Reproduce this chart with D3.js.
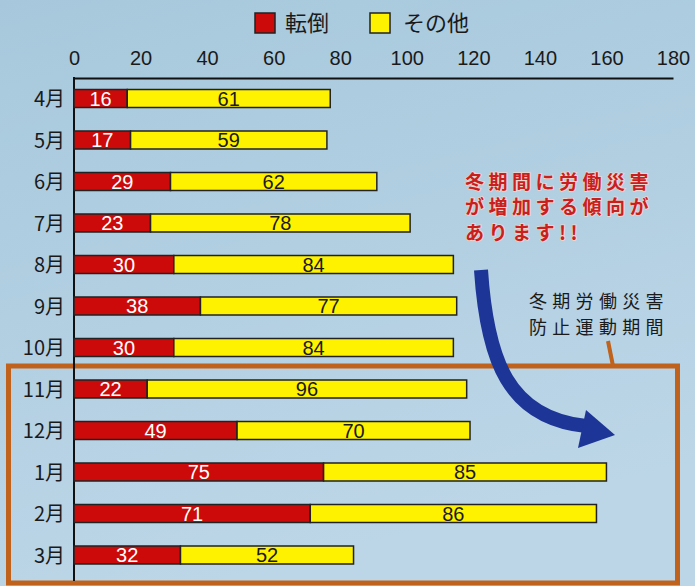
<!DOCTYPE html>
<html>
<head>
<meta charset="utf-8">
<script src="https://cdn.jsdelivr.net/npm/d3@7"></script>
<style>
  body { margin: 0; }
  text { font-family: "Liberation Sans", "Noto Sans CJK JP", sans-serif; }
</style>
</head>
<body>
<div id="chart"></div>
<script>

var months = ["4月", "5月", "6月", "7月", "8月", "9月", "10月", "11月", "12月", "1月", "2月", "3月"];
var tentou = [16, 17, 29, 23, 30, 38, 30, 22, 49, 75, 71, 32];
var sonota = [61, 59, 62, 78, 84, 77, 84, 96, 70, 85, 86, 52];
var seriesNames = ["転倒", "その他"];
var xTicks = [0, 20, 40, 60, 80, 100, 120, 140, 160, 180];
var noteLines = ["冬期間に労働災害", "が増加する傾向が", "あります!!"];
var periodLines = ["冬期労働災害", "防止運動期間"];

var width = 695,
    height = 586;

var svg = d3.select("#chart")
    .append("svg")
    .attr("width", width)
    .attr("height", height);

// background
var grad = svg.append("defs").append("linearGradient")
    .attr("id", "bg")
    .attr("x1", 0).attr("y1", 0).attr("x2", 0.3).attr("y2", 1);
grad.append("stop").attr("offset", "0%").attr("stop-color", "#a7c8dc");
grad.append("stop").attr("offset", "100%").attr("stop-color", "#bcd6e7");
svg.append("rect")
    .attr("width", width)
    .attr("height", height)
    .attr("fill", "url(#bg)");

var x = d3.scaleLinear()
    .domain([0, 180])
    .range([74, 673]);

var y = d3.scalePoint()
    .domain(months)
    .range([98.5, 555]);

var barH = 18;

// winter period box
svg.append("rect")
    .attr("x", 8.5)
    .attr("y", 366)
    .attr("width", 669)
    .attr("height", 217)
    .attr("fill", "none")
    .attr("stroke", "#c0621c")
    .attr("stroke-width", 5);
svg.append("line")
    .attr("x1", 613).attr("y1", 366)
    .attr("x2", 608).attr("y2", 341)
    .attr("stroke", "#c0621c")
    .attr("stroke-width", 4);

// top axis
var xAxis = svg.append("g")
    .attr("transform", "translate(0,78)")
    .call(d3.axisTop(x).tickValues(xTicks).tickSize(0).tickSizeOuter(0).tickPadding(13));
xAxis.select(".domain").attr("stroke", "#111").attr("stroke-width", 2);
xAxis.selectAll("text")
    .attr("font-size", 20)
    .attr("fill", "#1a1a1a")
    .style("font-family", "Liberation Sans, sans-serif");

// left axis
svg.append("line")
    .attr("x1", x(0)).attr("y1", 77)
    .attr("x2", x(0)).attr("y2", 581)
    .attr("stroke", "#111")
    .attr("stroke-width", 2);
var yAxis = svg.append("g")
    .attr("transform", "translate(" + x(0) + ",0)")
    .call(d3.axisLeft(y).tickSize(0).tickPadding(9));
yAxis.select(".domain").remove();
yAxis.selectAll("text")
    .attr("font-size", 20)
    .attr("fill", "#1a1a1a")
    .attr("dy", "0.35em")
    .style("font-family", "Noto Sans CJK JP, sans-serif");

var rows = months.map(function(m, i) {
    return {month: m, a: tentou[i], b: sonota[i]};
});

var bars = svg.selectAll(".row")
    .data(rows)
    .enter()
    .append("g")
    .attr("class", "row");

bars.append("rect")
    .attr("x", function(d) { return x(0); })
    .attr("y", function(d) { return y(d.month) - barH / 2; })
    .attr("width", function(d) { return x(d.a) - x(0); })
    .attr("height", barH)
    .attr("fill", "#cc0a0a")
    .attr("stroke", "#222")
    .attr("stroke-width", 1.5);

bars.append("rect")
    .attr("x", function(d) { return x(d.a); })
    .attr("y", function(d) { return y(d.month) - barH / 2; })
    .attr("width", function(d) { return x(d.a + d.b) - x(d.a); })
    .attr("height", barH)
    .attr("fill", "#fff200")
    .attr("stroke", "#222")
    .attr("stroke-width", 1.5);

bars.append("text")
    .attr("x", function(d) { return (x(0) + x(d.a)) / 2; })
    .attr("y", function(d) { return y(d.month); })
    .attr("dy", "0.36em")
    .attr("text-anchor", "middle")
    .attr("font-size", 20)
    .attr("fill", "#fff")
    .text(function(d) { return d.a; });

bars.append("text")
    .attr("x", function(d) { return (x(d.a) + x(d.a + d.b)) / 2; })
    .attr("y", function(d) { return y(d.month); })
    .attr("dy", "0.36em")
    .attr("text-anchor", "middle")
    .attr("font-size", 20)
    .attr("fill", "#1a1a1a")
    .text(function(d) { return d.b; });

// legend
var legendColors = ["#cc0a0a", "#fff200"];
var legendX = [255, 370];
var legend = svg.selectAll(".legend")
    .data(seriesNames)
    .enter()
    .append("g")
    .attr("class", "legend")
    .attr("transform", function(d, i) { return "translate(" + legendX[i] + ",13)"; });
legend.append("rect")
    .attr("width", 20)
    .attr("height", 20)
    .attr("fill", function(d, i) { return legendColors[i]; })
    .attr("stroke", "#222")
    .attr("stroke-width", 1.5);
legend.append("text")
    .attr("x", function(d, i) { return i == 0 ? 30 : 33; })
    .attr("y", 10)
    .attr("dy", "0.36em")
    .attr("font-size", 22)
    .attr("fill", "#1a1a1a")
    .style("font-family", "Noto Sans CJK JP, sans-serif")
    .text(function(d) { return d; });

// arrow
svg.append("path")
    .attr("d", "M481,270 C487,360 508,418 586,426")
    .attr("fill", "none")
    .attr("stroke", "#1d3596")
    .attr("stroke-width", 14);
svg.append("path")
    .attr("d", "M586,410 L615,435 L578,448 Z")
    .attr("fill", "#1d3596");

// annotation texts
svg.append("text")
    .attr("font-size", 19)
    .attr("font-weight", "bold")
    .attr("fill", "#c8201e")
    .attr("stroke", "#f2d6cc")
    .attr("stroke-width", 1.5)
    .attr("paint-order", "stroke")
    .attr("letter-spacing", 4.5)
    .style("font-family", "Noto Sans CJK JP, sans-serif")
    .selectAll("tspan")
    .data(noteLines)
    .enter()
    .append("tspan")
    .attr("x", 465)
    .attr("y", function(d, i) { return 182 + i * 25.5; })
    .attr("dy", "0.36em")
    .text(function(d) { return d; });

svg.append("text")
    .attr("font-size", 18)
    .attr("fill", "#1a1a1a")
    .attr("letter-spacing", 5.3)
    .style("font-family", "Noto Sans CJK JP, sans-serif")
    .selectAll("tspan")
    .data(periodLines)
    .enter()
    .append("tspan")
    .attr("x", 529)
    .attr("y", function(d, i) { return 302 + i * 26; })
    .attr("dy", "0.36em")
    .text(function(d) { return d; });

</script>
</body>
</html>
